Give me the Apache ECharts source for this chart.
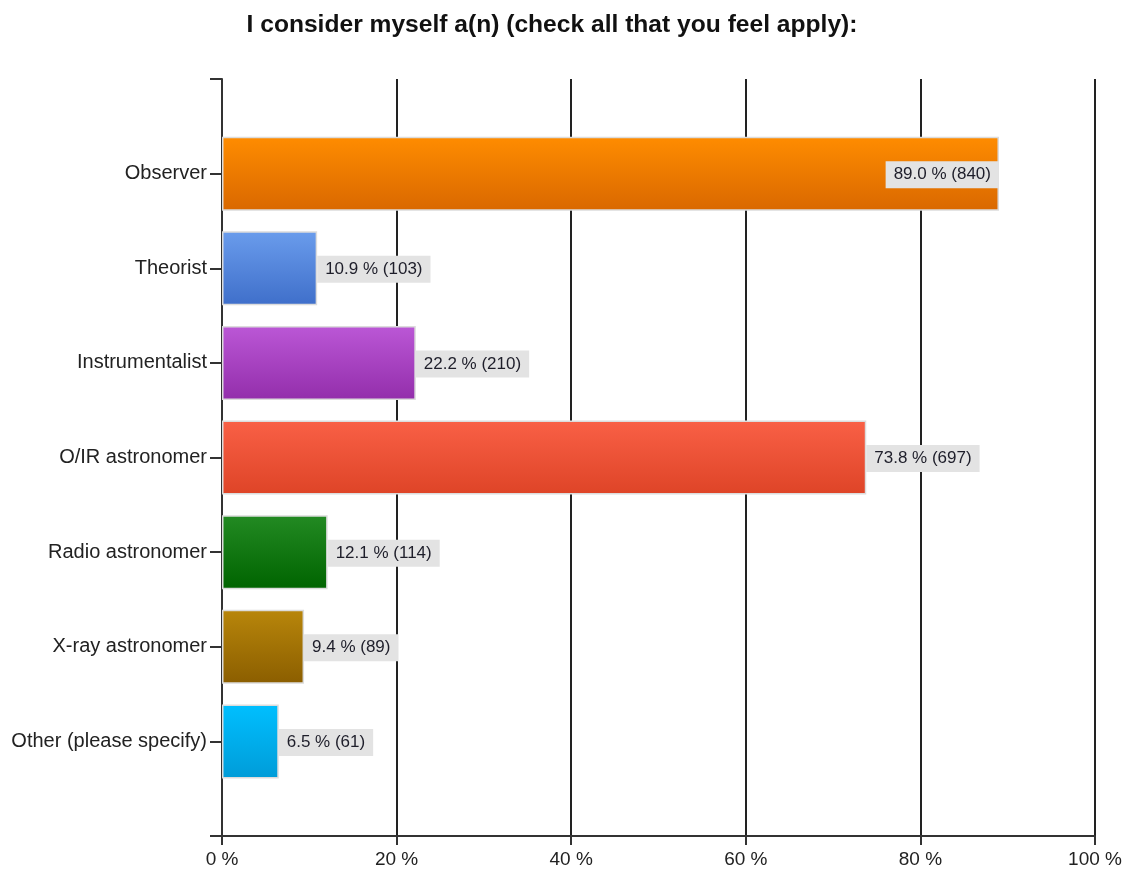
<!DOCTYPE html>
<html>
<head>
<meta charset="utf-8">
<script src="https://cdn.jsdelivr.net/npm/echarts@6/dist/echarts.min.js"></script>
<style>
  html, body { margin: 0; padding: 0; background: #ffffff; }
  #chart { width: 1125px; height: 872px; }
</style>
</head>
<body>
<div id="chart"></div>
<script>
// Survey question: respondents could tick more than one role
const titleText = 'I consider myself a(n) (check all that you feel apply):';
const categories = ['Observer', 'Theorist', 'Instrumentalist', 'O/IR astronomer', 'Radio astronomer', 'X-ray astronomer', 'Other (please specify)'];
const percents = [89.0, 10.9, 22.2, 73.8, 12.1, 9.4, 6.5];
const counts = [840, 103, 210, 697, 114, 89, 61];
const xTicks = [0, 20, 40, 60, 80, 100];
// top / bottom colour of each bar's vertical gradient
const topColors = ['#ff8c00', '#6a9cec', '#bb57d6', '#f96046', '#238a23', '#b8860b', '#00bfff'];
const bottomColors = ['#d96800', '#3f6fca', '#932eab', '#de4427', '#006400', '#8b5e00', '#009cd8'];

const FONT = '"Liberation Sans", Arial, sans-serif';

// pad the category axis with an empty slot at each end so the bars sit
// half a slot away from the top and bottom of the plot
const axisCats = [''].concat(categories, ['']);

const barData = [null];
percents.forEach(function (p, i) {
  barData.push({
    value: p,
    itemStyle: {
      color: new echarts.graphic.LinearGradient(0, 0, 0, 1, [
        { offset: 0, color: topColors[i] },
        { offset: 1, color: bottomColors[i] }
      ])
    },
    label: (p > 80) ? { position: 'insideRight', distance: 0 } : { position: 'right', distance: 0 }
  });
});
barData.push(null);

const chart = echarts.init(document.getElementById('chart'), null, { renderer: 'canvas' });
chart.setOption({
  backgroundColor: '#ffffff',
  animation: false,
  title: {
    text: titleText,
    left: 547,
    textAlign: 'center',
    top: 8,
    textStyle: { fontFamily: FONT, fontSize: 24.6, fontWeight: 'bold', color: '#111111' }
  },
  grid: { left: 222, right: 30, top: 79, bottom: 36, containLabel: false },
  xAxis: {
    type: 'value',
    min: xTicks[0],
    max: xTicks[xTicks.length - 1],
    interval: xTicks[1] - xTicks[0],
    axisLine: { show: true, lineStyle: { color: '#333333', width: 2 } },
    axisTick: { show: true, length: 9, lineStyle: { color: '#333333', width: 2 } },
    axisLabel: {
      margin: 14,
      fontFamily: FONT, fontSize: 19, color: '#222222',
      formatter: function (v) { return v + ' %'; }
    },
    splitLine: { show: true, lineStyle: { color: '#222222', width: 2 } }
  },
  yAxis: {
    type: 'category',
    inverse: true,
    boundaryGap: false,
    data: axisCats,
    axisLine: { show: true, lineStyle: { color: '#333333', width: 2 } },
    axisTick: { show: true, length: 12, alignWithLabel: true, lineStyle: { color: '#333333', width: 2 } },
    axisLabel: { margin: 15, fontFamily: FONT, fontSize: 20, color: '#222222' },
    splitLine: { show: false }
  },
  series: [{
    type: 'bar',
    barWidth: 74,
    data: barData,
    itemStyle: { borderColor: '#dcdcdc', borderWidth: 1.5 },
    label: {
      show: true,
      fontFamily: FONT,
      fontSize: 17,
      color: '#1e1e2a',
      backgroundColor: '#e3e3e3',
      padding: [5, 8, 5, 8],
      offset: [0, 1],
      formatter: function (p) {
        const i = p.dataIndex - 1;
        return percents[i].toFixed(1) + ' % (' + counts[i] + ')';
      }
    }
  }]
});
</script>
</body>
</html>
